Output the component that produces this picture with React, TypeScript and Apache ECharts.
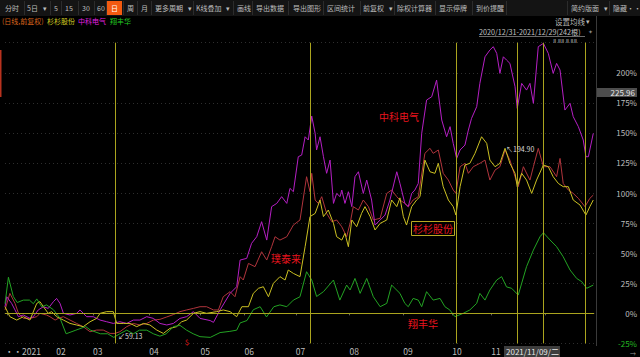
import React, { useEffect, useRef } from 'react';
import * as echarts from 'echarts';

// ---- data ----
const lastDay = 241;
const monthStarts = [1, 21, 36, 59, 80, 98, 119, 141, 163, 183, 199, 221];
const labelDays = [0, 21, 36, 59, 80, 98, 119, 141, 163, 183, 199];
const monthLabels = ['··2021', '02', '03', '04', '05', '06', '07', '08', '09', '10', '11'];
const yMin = -25;
const yMax = 225;
const yStep = 25;
const markerDays = [45, 125, 184.5, 209.6, 220.3, 237.6];

// 杉杉股份 (yellow)
const shanshan: [number, number][] = [
  [0, 5.5], [2, -2.8], [4.8, -5.6], [7.5, -2.8], [10.2, -5.6], [13, 8.3], [14.3, 9.7], [15.7, 5.5], [17.7, 0], [19.1, 1.4],
  [21.1, -2.8], [23.9, -5.6], [26.6, -8.4], [29.3, -9.7], [32, -11.1], [34.8, -7], [37.5, -4.2], [38.9, 0], [41.6, 1.4], [44.3, 1.4],
  [45.7, -8.4], [48.4, -8.4], [51.2, -8.4], [53.9, -11.1], [56.6, -8.4], [59.3, -9.7], [62.1, -13.9], [64.8, -16.7], [67.5, -12.5], [70.2, -11.1],
  [72.3, -7], [74.3, -5.6], [77.1, 0], [79.8, 1.4], [82.5, 0], [86.6, 1.4], [89.3, 2.8], [92.1, 1.4], [94.8, -2.8], [96.9, 5.5],
  [99.6, 5.5], [101.6, 16.6], [103.7, 20.8], [105.7, 22.1], [107.8, 13.8], [109.8, 24.9], [112.5, 30.5], [114.6, 27.7], [115.9, 36], [118, 33.2],
  [120.7, 30.5], [122.8, 55.4], [124.8, 80.4], [126.9, 83.1], [128.9, 94.2], [130.3, 80.4], [132.3, 85.9], [134.4, 74.8], [135.7, 63.7], [137.8, 60.9],
  [139.1, 66.5], [140.5, 55.4], [141.9, 77.6], [143.9, 72], [145.9, 83.1], [147.3, 88.7], [149.4, 80.4], [151.4, 69.3], [153.5, 74.8], [156.2, 77.6],
  [158.2, 94.2], [160.3, 88.7], [161.6, 96], [163, 80.4], [164.3, 73.4], [166.4, 88.7], [168.4, 94.2], [169.8, 97], [171.8, 127.4], [173.9, 117.7],
  [175.9, 116.4], [177.3, 124.7], [179.3, 105.3], [181.4, 94.2], [183.4, 88.7], [184.5, 81.7], [186.2, 105.3], [188.2, 123.3], [190.2, 124.7], [192.3, 133],
  [195, 146.8], [197.1, 141.3], [198.4, 127.4], [200.5, 121.9], [202.5, 124.7], [204.6, 137.2], [206.6, 124.7], [208.7, 116.4], [209.6, 105.3], [211.4, 116.4],
  [213.4, 110.8], [215.5, 99.7], [217.5, 110.8], [220.3, 123.3], [222.3, 121.9], [224.3, 113.6], [226.4, 108], [228.4, 105.3], [230.5, 105.3], [232.5, 94.2],
  [235.3, 90], [237.7, 81.7], [239.3, 88.7], [240.7, 94.2],
];

// 中科电气 (magenta)
const zhongke: [number, number][] = [
  [0, 5.5], [0.7, 13.8], [2.7, 8.3], [4.1, 2.8], [5.5, -2.8], [7.5, -1.4], [10.2, -4.2], [11.6, -2.8], [13.6, 2.8], [15.7, 5.5],
  [17.7, 4.1], [19.8, 9.7], [21.1, 12.4], [22.5, 8.3], [23.9, 0], [26.6, -1.4], [29.3, 0], [30.7, 2.8], [33.4, -2.8], [36.1, -2.8],
  [38.9, -5.6], [41.6, -7], [44.3, -8.4], [47, -7], [49.8, -8.4], [52.5, -5.6], [55.2, -5.6], [58, -2.8], [60.7, -4.2], [63.4, -8.4],
  [66.2, -9.7], [68.9, -8.4], [71.6, -4.2], [74.3, -2.8], [77.1, 1.4], [79.8, -4.2], [83.9, -6], [85.3, -7.5], [88, 2.8], [92.1, 16.6],
  [94.8, 22.1], [96.2, 44.3], [98.9, 45.7], [100.9, 58.2], [103, 63.7], [105, 76.2], [107.1, 60.9], [109.1, 88.7], [111.2, 91.4], [113.2, 97],
  [115.3, 91.4], [116.6, 103.9], [118, 101.1], [120, 130.2], [121.4, 131.6], [122.8, 146.8], [124.1, 144.1], [125.5, 164], [126.9, 149.6], [127.5, 135.8],
  [128.9, 146.8], [130.3, 130.2], [131.6, 116.4], [133, 127.4], [134.4, 91.4], [135.7, 99.7], [137.1, 97], [137.8, 102.5], [139.1, 91.4], [140.5, 101.1],
  [141.9, 88.7], [143.2, 113.6], [144.6, 117.7], [146.6, 99.7], [148, 110.8], [150, 94.2], [151.4, 73.4], [153.5, 77.6], [155.5, 81.7], [157.5, 94.2],
  [160.3, 117.7], [161.6, 108], [163.6, 91.4], [165, 88.7], [166.4, 99.7], [167.7, 102.5], [169.1, 108], [170.5, 149.6], [172.5, 177.3], [174.6, 180.1],
  [176.6, 193.9], [178.7, 160.7], [180.7, 146.8], [182.1, 155.2], [183.4, 141.3], [184.8, 128.8], [186.2, 135.8], [188.2, 139.9], [189.6, 152.4], [190.9, 162.1],
  [193, 171.8], [194.3, 191.2], [196.4, 213.3], [198.4, 218.9], [199.8, 221.7], [201.2, 216.1], [202.5, 199.5], [203.9, 213.3], [205.2, 210.6], [206.6, 207.8],
  [208.7, 188.4], [209.6, 170.4], [211.4, 191.2], [213.4, 185.6], [214.8, 191.2], [216.2, 174.6], [218.2, 221.7], [220.3, 224.4], [222.3, 216.1], [224.3, 199.5],
  [225.7, 207.8], [227.1, 202.3], [229.1, 169], [231.2, 174.6], [232.5, 163.5], [234.6, 155.2], [236.6, 144.1], [237.7, 130.2], [238.7, 130.2], [240.7, 149.6],
];

// 璞泰来 (dark red)
const putailai: [number, number][] = [
  [0, 2.8], [2, 16.6], [4.1, 8.3], [5.5, 0], [7.5, -4.2], [10.2, -4.2], [13, -2.8], [14.3, 0], [17, -1.4], [18.4, -2.8],
  [20.5, -5.6], [21.8, -4.2], [23.9, -2.8], [26.6, -5.6], [29.3, -8.4], [32, -11.1], [34.8, -15.3], [37.5, -13.9], [40.2, -13.9], [43, -16.7],
  [45, -16.7], [47, -15.3], [49.8, -11.1], [52.5, -8.4], [55.2, -9.7], [58, -8.4], [60.7, -5.6], [63.4, -5], [66.2, -3], [68.9, -1],
  [71.6, 1.4], [74.3, 2.8], [77.1, 4.1], [79.8, 5.5], [82.5, 5.5], [85.3, 2.8], [87.3, 2.8], [89.3, 13.8], [92.1, 18], [94.1, 13.8],
  [96.2, 30.5], [97.5, 27.7], [99.6, 41.5], [102.3, 38.8], [105, 51.2], [107.1, 44.3], [109.1, 55.4], [110.5, 63.7], [112.5, 60.9], [115.3, 63.7],
  [118, 73.4], [120.7, 77.6], [123.4, 113.6], [124.8, 101.1], [125.5, 116.4], [126.9, 94.2], [128.2, 91.4], [129.6, 97], [131.6, 83.1], [133.7, 76.2],
  [135.7, 77.6], [137.8, 72], [139.8, 63.7], [141.2, 74.8], [142.5, 88.7], [144.6, 85.9], [146.6, 94.2], [148.7, 88.7], [150.7, 77.6], [153.5, 79],
  [156.2, 99.7], [158.2, 102.5], [160.3, 97], [161.6, 94.2], [163.6, 91.4], [165, 88.7], [167, 94.2], [169.1, 97], [171.8, 133], [173.9, 137.2],
  [175.2, 133], [177.3, 135.8], [179.3, 116.4], [181.4, 110.8], [183.4, 102.5], [184.5, 99.7], [186.2, 121.9], [188.2, 124.7], [189.6, 116.4], [191.6, 121.9],
  [194.3, 124.7], [196.4, 127.4], [198.4, 110.8], [200.5, 119.1], [202.5, 121.9], [204.6, 135.8], [206.6, 127.4], [208.7, 113.6], [210, 105.3], [212.1, 121.9],
  [214.8, 110.8], [216.2, 121.9], [218.2, 137.2], [220.3, 121.9], [223, 121.9], [225.7, 113.6], [227.1, 128.8], [228.4, 108], [230.5, 102.5], [232.5, 99.7],
  [234.6, 95.6], [237.3, 88.7], [239.3, 95.6], [240.7, 98.3],
];

// 翔丰华 (green)
const xiangfenghua: [number, number][] = [
  [0, 8], [1.4, 30], [3.4, 14], [5, 9], [7.5, 11], [10, 11], [11.6, 8], [13, 12], [15, 5.5], [17, 7],
  [19.8, 3], [22.5, -4], [25, -17], [29, -14], [33, -11], [35, -14], [39, -17], [42, -17], [44.5, -20], [47, -17],
  [49.8, -14], [52.5, -17], [55, -14], [58, -14], [60.7, -17], [63.4, -19], [66, -17], [69, -11], [71.6, -10], [74.3, -14],
  [77, -17], [79.8, -19.4], [84, -20], [88, -16], [92, -15], [94.8, -14], [96.2, -8], [99, -6], [101.6, 3], [104.4, 5.5],
  [107, -3], [110, 5.5], [112.5, 7], [115.3, 5.5], [118, 11], [120.7, 13.8], [123.4, 34.6], [125.5, 27.7], [127.5, 14], [130.3, 18],
  [134.4, 27.7], [137, 11], [139.8, 23.5], [141.2, 19.4], [143.2, 29], [145.3, 16.6], [148, 29], [150.7, 13.8], [153.5, 5.5], [156.2, 8.3],
  [158.2, 23.5], [161.6, 16.6], [163.6, 8.3], [165, 5.5], [167, 12.4], [169.1, 11], [170.5, 5.5], [172.5, 18], [175.2, 11], [178, 12.4],
  [180, 5.5], [182, 2.8], [184.1, -2.8], [187.5, 0], [190.2, 2.8], [193, 8.3], [194.3, 16.6], [196.4, 11], [198.4, 19.4], [201.2, 27.7],
  [203.2, 30.5], [205.2, 22], [207.3, 20.8], [210, 15.2], [213.4, 38.8], [216.2, 52.6], [218.9, 63.7], [220.3, 67], [223, 61], [225.7, 55.4],
  [228.4, 47], [231.2, 36], [233.9, 29], [236, 26.3], [238, 20.8], [240.7, 23.5],
];

const legendItems = ['(日线,前复权)', '杉杉股份', '中科电气', '翔丰华'];
const toolbarItems = ['分时', '5日', '▾', '5', '15', '30', '60', '日', '周', '月', '更多周期', '▾', 'K线叠加', '▾', '画线', '导出数据', '导出图形', '区间统计', '前复权', '▾', '除权计算器', '显示停牌', '到价提醒', '简约版面', '▾', '隐藏', '··'];

// ---- layout / style ----
const toolbarX = [5, 27, 43, 54, 65, 82, 97, 111, 127, 141, 155, 188, 196, 226, 237, 256, 293, 327, 363, 389, 397, 439, 476, 571, 604, 613, 627];
const toolbarSep = [24, 50, 61, 78, 94, 106, 123, 137, 151, 193, 233, 252, 288, 323, 360, 394, 435, 472, 506, 567, 609];
const legendX = [2, 47, 78, 110];
const legendColors = ['#d8641c', '#d4cc22', '#e020e0', '#22cc22'];
const FONT = '"Noto Sans CJK SC", "Noto Sans", sans-serif';
const COL_Y = '#cbc022';
const COL_M = '#b51fc4';
const COL_R = '#b0343c';
const COL_G = '#23a323';
const COL_MARK = '#aaa41e';

function txt(x: number, y: number, text: string, fill: string, size: number, align = 'left', extra: any = {}) {
  return {
    type: 'text', x, y, silent: true, z: 100,
    style: { text, fill, fontSize: size, fontFamily: FONT, align, textAlign: align, verticalAlign: 'middle', textVerticalAlign: 'middle', ...extra },
  };
}

export default function App() {
  const ref = useRef<HTMLDivElement>(null);
  useEffect(() => {
    if (!ref.current) return;
    const chart = echarts.init(ref.current, undefined, { renderer: 'svg' });

    const graphics: any[] = [];
    // toolbar
    graphics.push({ type: 'rect', shape: { x: 0, y: 0, width: 640, height: 16 }, style: { fill: '#141414' }, silent: true, z: 90 });
    toolbarSep.forEach((sx) => graphics.push({ type: 'line', shape: { x1: sx + 0.5, y1: 1, x2: sx + 0.5, y2: 15 }, style: { stroke: '#2c2c2c', lineWidth: 1 }, silent: true, z: 91 }));
    graphics.push({ type: 'rect', shape: { x: 107, y: 1, width: 15, height: 14 }, style: { fill: '#f25a10' }, silent: true, z: 92 });
    toolbarItems.forEach((t, i) => graphics.push(txt(toolbarX[i], 8, t, t === '日' && toolbarX[i] === 111 ? '#ffffff' : '#bdbdbd', 7)));
    // legend
    legendItems.forEach((t, i) => graphics.push(txt(legendX[i], 21, t, legendColors[i], 7)));
    // top-right info
    graphics.push(txt(555, 21, '设置均线', '#b8b8b8', 7.5));
    graphics.push(txt(586, 21, '▾', '#b8b8b8', 7));
    graphics.push(txt(479, 31.5, '2020/12/31-2021/12/29(242根)', '#c0c0c0', 7.2));
    graphics.push({ type: 'line', shape: { x1: 479, y1: 36.5, x2: 585, y2: 36.5 }, style: { stroke: '#9a9a9a', lineWidth: 0.7 }, silent: true, z: 100 });
    graphics.push(txt(588, 31, '✦', '#8a8a8a', 6));
    graphics.push(txt(553, 40, 'ǁ ǁǁ ǁ ǁǁ', '#d0d0d0', 6));
    // right border
    graphics.push({ type: 'line', shape: { x1: 596.5, y1: 16, x2: 596.5, y2: 346 }, style: { stroke: '#3a3a3a', lineWidth: 1 }, silent: true, z: 50 });
    // left red marker
    graphics.push({ type: 'rect', shape: { x: 0, y: 50, width: 1.5, height: 47 }, style: { fill: '#b8321e' }, silent: true, z: 60 });
    // price tag
    graphics.push({ type: 'rect', shape: { x: 597, y: 88, width: 40, height: 9 }, style: { fill: '#4d4d4d' }, silent: true, z: 99 });
    graphics.push(txt(635, 92.5, '225.96', '#e6e6e6', 8, 'right'));
    // stock name labels
    graphics.push(txt(399, 116, '中科电气', '#e8141e', 10, 'center'));
    graphics.push(txt(286, 258, '璞泰来', '#e8141e', 10, 'center'));
    graphics.push({ type: 'rect', shape: { x: 411.5, y: 221.5, width: 43, height: 14 }, style: { fill: '#000', stroke: '#b8a822', lineWidth: 1 }, silent: true, z: 99 });
    graphics.push(txt(433, 228.5, '杉杉股份', '#e8141e', 10, 'center'));
    graphics.push(txt(423, 323, '翔丰华', '#e8141e', 10, 'center'));
    // extreme annotations
    graphics.push(txt(506, 148.5, '↖194.90', '#d8d8d8', 7));
    graphics.push(txt(118, 336, '↙59.13', '#d8d8d8', 7));
    graphics.push(txt(185, 342, '$', '#e01818', 7));
    // x axis extras
    graphics.push({ type: 'rect', shape: { x: 504, y: 346, width: 56, height: 11 }, style: { fill: '#3d3d3d' }, silent: true, z: 99 });
    graphics.push(txt(506, 351.5, '2021/11/09/二', '#e6e6e6', 8));
    graphics.push(txt(630, 353, '→', '#9a9a9a', 6));

    const lineSeries = (name: string, data: [number, number][], color: string, extra: any = {}) => ({
      name, type: 'line', data, showSymbol: false, symbol: 'none', smooth: false,
      lineStyle: { color, width: 1 }, itemStyle: { color }, silent: true, ...extra,
    });

    chart.setOption({
      animation: false,
      backgroundColor: '#000000',
      grid: { left: 5, right: 46, top: 42.7, bottom: 13.6, containLabel: false },
      xAxis: {
        type: 'value', min: 0, max: lastDay,
        splitLine: { show: false },
        axisLine: { show: true, lineStyle: { color: '#3e3e3e' } },
        axisTick: { show: true, customValues: monthStarts, length: 2, lineStyle: { color: '#666' } },
        axisLabel: {
          customValues: labelDays, align: 'left', margin: 3, fontSize: 8.5, color: '#bdbdbd', fontFamily: FONT,
          formatter: (v: number) => { const i = labelDays.indexOf(Math.round(v)); return i >= 0 ? monthLabels[i] : ''; },
        },
      },
      yAxis: {
        type: 'value', position: 'right', min: yMin, max: yMax, interval: yStep,
        axisLine: { show: false }, axisTick: { show: false },
        splitLine: { show: true, lineStyle: { color: '#2e2e2e', type: [1, 3], width: 1 } },
        axisLabel: {
          align: 'right', margin: 43, fontSize: 8, fontFamily: FONT,
          color: (v: any) => (Number(v) < 0 ? '#22b822' : '#bdbdbd'),
          formatter: (v: number) => (v >= yMax ? '' : `${v}%`),
        },
      },
      series: [
        lineSeries('璞泰来', putailai, COL_R, {
          markLine: {
            silent: true, symbol: ['none', 'none'], label: { show: false },
            lineStyle: { color: COL_MARK, type: 'solid', width: 1 },
            data: [...markerDays.map((d) => ({ xAxis: d })), { yAxis: 0 }],
          },
        }),
        lineSeries('中科电气', zhongke, COL_M),
        lineSeries('杉杉股份', shanshan, COL_Y),
        lineSeries('翔丰华', xiangfenghua, COL_G),
      ],
      graphic: graphics,
    });
    return () => chart.dispose();
  }, []);
  return <div ref={ref} style={{ position: 'fixed', left: 0, top: 0, width: 640, height: 357, background: '#000' }} />;
}
